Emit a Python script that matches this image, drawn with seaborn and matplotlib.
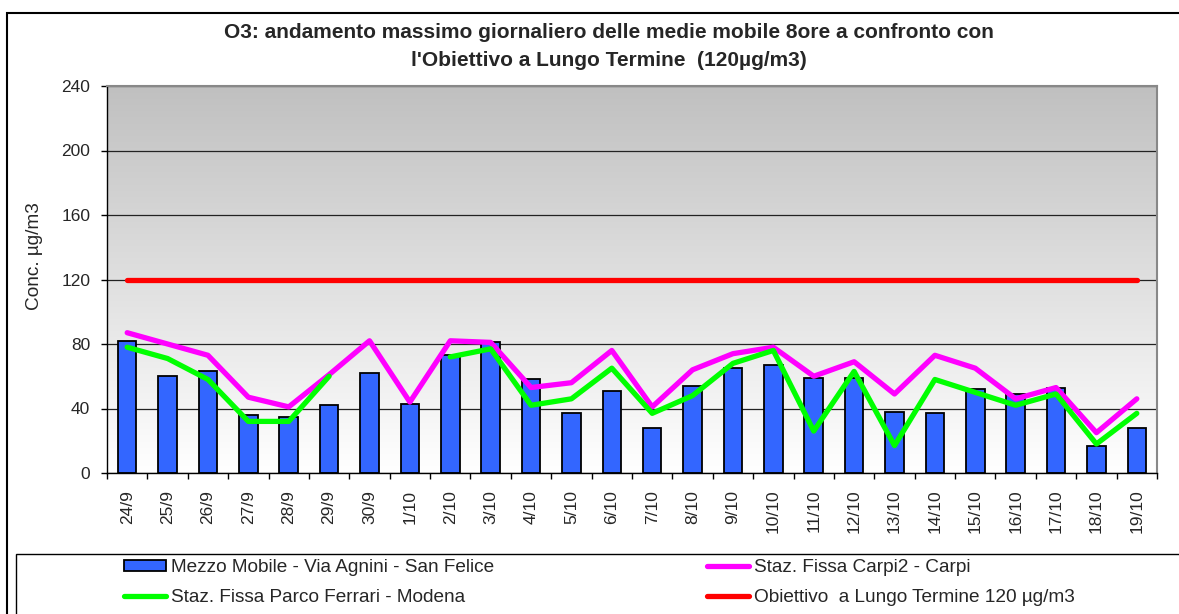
import matplotlib
matplotlib.use('Agg')
import matplotlib.pyplot as plt
from matplotlib.patches import Rectangle
from matplotlib.lines import Line2D
from matplotlib.colors import LinearSegmentedColormap
import seaborn as sns
import numpy as np

giorni = ['24/9', '25/9', '26/9', '27/9', '28/9', '29/9', '30/9', '1/10', '2/10', '3/10',
          '4/10', '5/10', '6/10', '7/10', '8/10', '9/10', '10/10', '11/10', '12/10', '13/10',
          '14/10', '15/10', '16/10', '17/10', '18/10', '19/10']

# Mezzo Mobile - Via Agnini - San Felice (barre)
mezzo_mobile = [82, 60, 63, 36, 35, 42, 62, 43, 73, 81,
                58, 37, 51, 28, 54, 65, 67, 59, 59, 38,
                37, 52, 49, 53, 17, 28]

# Staz. Fissa Carpi2 - Carpi
carpi = [87, 80, 73, 47, 41, 61, 82, 44, 82, 81,
         53, 56, 76, 41, 64, 74, 78, 60, 69, 49,
         73, 65, 46, 53, 25, 46]

# Staz. Fissa Parco Ferrari - Modena (mancano 30/9 e 1/10)
modena = [78, 71, 58, 32, 32, 60, np.nan, np.nan, 72, 77,
          42, 46, 65, 37, 48, 68, 76, 26, 63, 17,
          58, 50, 42, 49, 18, 37]

obiettivo = 120

sns.set_style('ticks')
plt.rcParams['font.family'] = ['Liberation Sans', 'DejaVu Sans']

fig = plt.figure(figsize=(11.79, 6.14), dpi=100)
W, H = 1179, 614

# cornice esterna e riquadro legenda
fig.patches.append(Rectangle((7 / W, -0.1), 1.2, 1 - 13 / H + 0.1, transform=fig.transFigure,
                             fill=False, edgecolor='black', linewidth=1.5))
fig.patches.append(Rectangle((16 / W, -0.1), 1.2, (614 - 554) / H + 0.1, transform=fig.transFigure,
                             fill=False, edgecolor='black', linewidth=1))

ax = fig.add_axes([107 / W, (614 - 473) / H, 1050 / W, 387 / H])

# sfondo sfumato grigio -> bianco
cmap = LinearSegmentedColormap.from_list('sfondo', ['white', '#c0c0c0'])
ax.imshow(np.linspace(0, 1, 256).reshape(-1, 1), extent=(-0.5, len(giorni) - 0.5, 0, 240),
          origin='lower', aspect='auto', cmap=cmap, zorder=0)

sns.barplot(x=giorni, y=mezzo_mobile, color='#3366ff', saturation=1, width=0.46,
            edgecolor='black', linewidth=1.3, ax=ax, zorder=2)

pos = np.arange(len(giorni))
ax.plot(pos, carpi, color='#ff00ff', lw=3.8, solid_capstyle='round', solid_joinstyle='round', zorder=3)
ax.plot(pos, modena, color='#00ff00', lw=3.8, solid_capstyle='round', solid_joinstyle='round', zorder=4)
ax.plot(pos, [obiettivo] * len(giorni), color='#ff0000', lw=3.8, solid_capstyle='round', zorder=3)

ax.set_xlim(-0.5, len(giorni) - 0.5)
ax.set_ylim(0, 240)
ax.set_yticks(range(0, 241, 40))
ax.yaxis.grid(True, color='#222222', lw=0.9)
ax.set_axisbelow(True)
for s in ['top', 'right']:
    ax.spines[s].set_color('#888888')
    ax.spines[s].set_linewidth(1.5)
for s in ['left', 'bottom']:
    ax.spines[s].set_color('black')
    ax.spines[s].set_linewidth(1)

ax.set_xticks(pos)
ax.set_xticklabels(giorni, rotation=90, fontsize=12.5)
ax.set_xticks(np.arange(-0.5, len(giorni), 1), minor=True)
ax.tick_params(axis='x', which='major', length=0, pad=12)
ax.tick_params(axis='x', which='minor', length=4, width=1, color='black', direction='out')
ax.tick_params(axis='y', length=4, width=1, color='black', direction='out', labelsize=12.5, pad=8)
ax.set_xlabel('')
ax.set_ylabel('Conc. µg/m3', fontsize=13.7)
ax.yaxis.set_label_coords((43 - 107) / 1050, (473 - 256) / 387)

fig.text(609 / W, 1 - 32 / H, 'O3: andamento massimo giornaliero delle medie mobile 8ore a confronto con',
         ha='center', va='center', fontsize=15, fontweight='bold')
fig.text(609 / W, 1 - 60 / H, "l'Obiettivo a Lungo Termine  (120µg/m3)",
         ha='center', va='center', fontsize=15, fontweight='bold')

h_bar = Rectangle((0, 0), 1, 1, facecolor='#3366ff', edgecolor='black', linewidth=1.3)
h_carpi = Line2D([], [], color='#ff00ff', lw=3.8)
h_modena = Line2D([], [], color='#00ff00', lw=3.8)
h_obj = Line2D([], [], color='#ff0000', lw=3.8)

leg_kw = dict(loc='upper left', frameon=False, fontsize=13.7, handlelength=2.2,
              handleheight=0.55, handletextpad=0.25, labelspacing=0.68)
fig.legend([h_bar, h_modena],
           ['Mezzo Mobile - Via Agnini - San Felice', 'Staz. Fissa Parco Ferrari - Modena'],
           bbox_to_anchor=(107 / W, 1 - 542 / H), **leg_kw)
fig.legend([h_carpi, h_obj],
           ['Staz. Fissa Carpi2 - Carpi', 'Obiettivo  a Lungo Termine 120 µg/m3'],
           bbox_to_anchor=(690 / W, 1 - 542 / H), **leg_kw)

fig.savefig('out.png', dpi=100)
